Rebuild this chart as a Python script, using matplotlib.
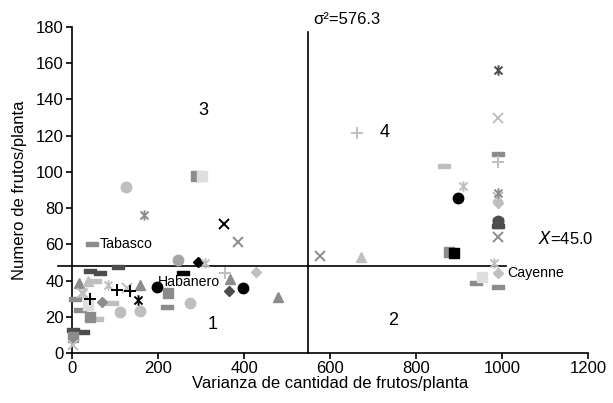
import numpy as np
import matplotlib.pyplot as plt
from matplotlib.path import Path

plt.rcParams['font.family'] = ['Liberation Sans', 'DejaVu Sans']

# umbrales (posicion de las lineas en el grafico)
var_linea = 548
media_linea = 48

# === puntos por tipo de marcador y tono de gris ===
dash_gray_x = [46.5, 7, 18.6, 940, 990, 990, 220]
dash_gray_y = [60, 29.6, 23.7, 38.5, 36.3, 109.7, 25.6]
dash_dark_x = [42, 65, 108, 3, 26, 990]
dash_dark_y = [45.5, 44, 47.3, 12.7, 11.7, 70]
dash_black_x = [259]
dash_black_y = [44]
dash_light_x = [53.5, 92, 57.5, 864]
dash_light_y = [40, 27.4, 19, 103.3]

circ_light_x = [126, 112, 157, 275]
circ_light_y = [91.7, 22.8, 23, 27.4]
circ_gray_x = [247]
circ_gray_y = [51.4]
circ_black_x = [197, 397, 898]
circ_black_y = [36.6, 35.7, 85.6]
circ_dark_x = [990]
circ_dark_y = [73]

diam_black_x = [292]
diam_black_y = [50.4]
diam_dark_x = [365]
diam_dark_y = [34.2]
diam_gray_x = [69]
diam_gray_y = [28.3]
diam_light_x = [428, 990, 990]
diam_light_y = [45, 44, 82.7]

tri_gray_x = [17, 158, 367, 480]
tri_gray_y = [38.8, 37.5, 41, 31]
tri_light_x = [36, 672]
tri_light_y = [40, 53]

sq_gray_x = [224, 42, 3, 876, 289]
sq_gray_y = [33.3, 20, 9, 56, 98]
sq_light_x = [38, 302, 953]
sq_light_y = [26.5, 97.5, 42]
sq_black_x = [889]
sq_black_y = [55]
sq_dark_x = [990]
sq_dark_y = [72]

x_black_x = [354]
x_black_y = [71]
x_gray_x = [386, 577, 990]
x_gray_y = [61.3, 53.6, 64.2]
x_light_x = [127, 22.5, 3, 990, 990]
x_light_y = [35.7, 33, 4.4, 129.6, 86]

ast_gray_x = [167.5, 990]
ast_gray_y = [76, 88.2]
ast_dark_x = [990]
ast_dark_y = [156]
ast_light_x = [84.5, 26, 310, 909, 980]
ast_light_y = [37.5, 33, 49.7, 92.2, 49.5]
ast_black_x = [154]
ast_black_y = [29.3]

plus_black_x = [105, 42, 135]
plus_black_y = [35, 30, 34]
plus_light_x = [663, 990, 356]
plus_light_y = [121.5, 105.6, 44]

# marcador "guion" tipo Excel
dash = Path([(-1, -0.35), (1, -0.35), (1, 0.35), (-1, 0.35), (-1, -0.35)],
            [Path.MOVETO, Path.LINETO, Path.LINETO, Path.LINETO, Path.CLOSEPOLY])
# asterisco: x + linea vertical
ast = Path([(-1, -1), (1, 1), (-1, 1), (1, -1), (0, -1.3), (0, 1.3)],
           [Path.MOVETO, Path.LINETO, Path.MOVETO, Path.LINETO, Path.MOVETO, Path.LINETO])

k, dk, g, lg, vl = '#000000', '#4d4d4d', '#8c8c8c', '#bfbfbf', '#dedede'

fig = plt.figure(figsize=(6.13, 4.03), dpi=100)
ax = fig.add_axes([0.1175, 0.124, 0.842, 0.809])

def pts(x, y, m, c, ms=7, filled=True):
    if filled:
        ax.plot(x, y, ls='none', marker=m, color=c, ms=ms, mec=c, clip_on=False, zorder=3)
    else:
        ax.plot(x, y, ls='none', marker=m, color=c, ms=ms, mew=1.4, clip_on=False, zorder=3)

pts(dash_gray_x, dash_gray_y, dash, g, 8)
pts(dash_dark_x, dash_dark_y, dash, dk, 8)
pts(dash_black_x, dash_black_y, dash, k, 8)
pts(dash_light_x, dash_light_y, dash, lg, 8)
pts(circ_light_x, circ_light_y, 'o', lg, 7.5)
pts(circ_gray_x, circ_gray_y, 'o', '#a6a6a6', 7.5)
pts(circ_black_x, circ_black_y, 'o', k, 7.5)
pts(circ_dark_x, circ_dark_y, 'o', dk, 7.5)
pts(diam_black_x, diam_black_y, 'D', k, 5.5)
pts(diam_dark_x, diam_dark_y, 'D', dk, 5.5)
pts(diam_gray_x, diam_gray_y, 'D', g, 5.5)
pts(diam_light_x, diam_light_y, 'D', lg, 5.5)
pts(tri_gray_x, tri_gray_y, '^', g, 7.5)
pts(tri_light_x, tri_light_y, '^', lg, 7.5)
pts(sq_gray_x, sq_gray_y, 's', g, 7)
pts(sq_light_x, sq_light_y, 's', vl, 7)
pts(sq_black_x, sq_black_y, 's', k, 7)
pts(sq_dark_x, sq_dark_y, 's', dk, 7)
pts(x_black_x, x_black_y, 'x', k, 7, False)
pts(x_gray_x, x_gray_y, 'x', g, 7, False)
pts(x_light_x, x_light_y, 'x', lg, 7, False)
pts(ast_gray_x, ast_gray_y, ast, g, 7.5, False)
pts(ast_dark_x, ast_dark_y, ast, dk, 7.5, False)
pts(ast_light_x, ast_light_y, ast, lg, 7.5, False)
pts(ast_black_x, ast_black_y, ast, k, 7.5, False)
pts(plus_black_x, plus_black_y, '+', k, 8, False)
pts(plus_light_x, plus_light_y, '+', lg, 8, False)

# lineas de la media y la varianza
ax.plot([var_linea, var_linea], [0, 177], color='k', lw=1.2, clip_on=False, zorder=2)
ax.plot([-32, 1008], [media_linea, media_linea], color='k', lw=1.2, clip_on=False, zorder=2)

ax.text(561, 184, 'σ²=576.3', fontsize=12, va='center', ha='left')
ax.text(1083, 63.5, '$X$=45.0', fontsize=12, va='center', ha='left')
ax.text(65, 60, 'Tabasco', fontsize=10.2, va='center', ha='left')
ax.text(200, 39.4, 'Habanero', fontsize=10.2, va='center', ha='left')
ax.text(1011, 44, 'Cayenne', fontsize=10.2, va='center', ha='left')
for s, xx, yy in [('3', 305, 134), ('4', 726, 121.5), ('1', 328, 15.5), ('2', 747, 17.7)]:
    ax.text(xx, yy, s, fontsize=13, ha='center', va='center')

ax.set_xlim(0, 1200)
ax.set_ylim(0, 180)
ax.set_xticks(np.arange(0, 1201, 200))
ax.set_yticks(np.arange(0, 181, 20))
ax.spines['top'].set_visible(False)
ax.spines['right'].set_visible(False)
ax.spines['left'].set_linewidth(1.2)
ax.spines['bottom'].set_linewidth(1.2)
ax.tick_params(labelsize=12, length=4, width=1.2, pad=2)
ax.set_xlabel('Varianza de cantidad de frutos/planta', fontsize=12, labelpad=0)
ax.set_ylabel('Numero de frutos/planta', fontsize=12, labelpad=6)

plt.savefig('out.png', dpi=100)
